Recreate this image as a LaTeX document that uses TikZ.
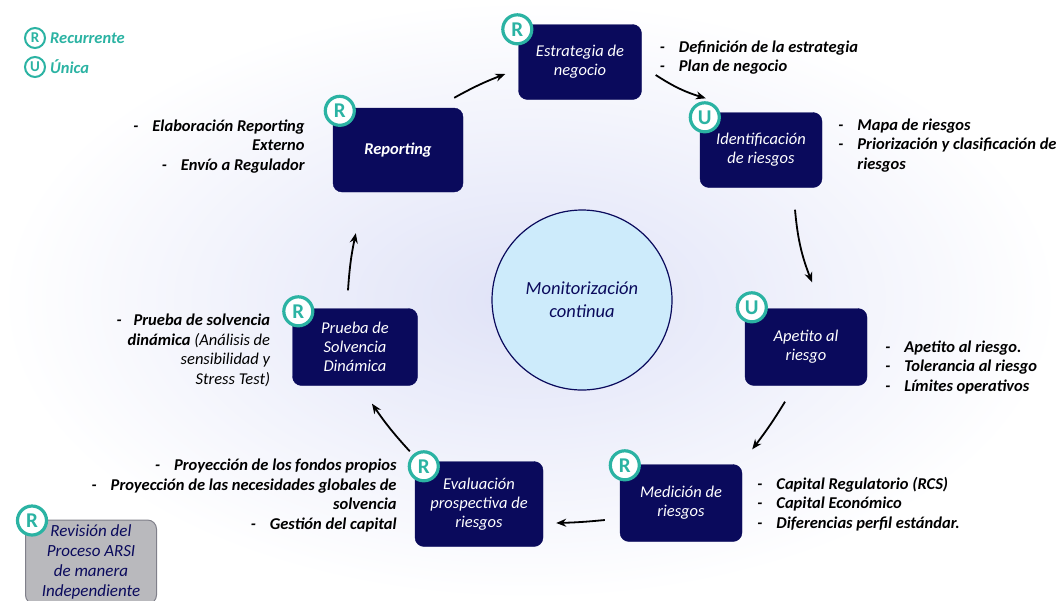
\documentclass[tikz,border=0pt]{standalone}
\usepackage{fontspec}
\setmainfont{Carlito}
\usepackage{tikz}
\usetikzlibrary{arrows.meta,positioning,calc}
\definecolor{arsinavy}{HTML}{0A0A5C}
\definecolor{arsiteal}{HTML}{2BB3A3}
\definecolor{arsicircle}{HTML}{CDEBFB}
\definecolor{arsigray}{HTML}{B9B9BD}
\definecolor{arsigrayline}{HTML}{80808A}
\definecolor{arsiwash}{HTML}{DFE2F7}

\begin{document}
\begin{tikzpicture}[x=1pt,y=-1pt,
  etapa/.style={draw=arsinavy, fill=arsinavy, rounded corners=9pt,
                minimum width=122pt, minimum height=77pt, inner sep=2pt,
                align=center, text=white,
                font=\fontsize{16.5}{19}\selectfont\itshape},
  marca/.style={circle, draw=arsiteal, line width=3.2pt, fill=white,
                minimum size=29pt, inner sep=0pt,
                font=\fontsize{21}{21}\selectfont\bfseries\color{arsiteal}},
  leyenda/.style={marca, line width=2pt, minimum size=20pt,
                  font=\fontsize{15}{15}\selectfont\bfseries\color{arsiteal}},
  tarea/.style={inner sep=0pt, font=\fontsize{16.5}{19.5}\selectfont\bfseries\itshape},
  flecha/.style={-{Stealth[length=10pt,width=8pt]}, line width=1.8pt, black}
]
  \useasboundingbox (0,0) rectangle (1059,600);
  \clip (0,0) rectangle (1059,600);
  \shade[inner color=arsiwash, outer color=white] (0,0) rectangle (1059,600);

  % ciclo ARSI
  \node[etapa, minimum width=123pt, minimum height=75pt] (est) at (580,62) {Estrategia de\\negocio};
  \node[etapa, minimum height=75pt] (ide) at (761,150) {Identificación\\de riesgos};
  \node[etapa] (ape) at (806,347) {Apetito al\\riesgo};
  \node[etapa] (med) at (681,503) {Medición de\\riesgos};
  \node[etapa, minimum width=128pt, minimum height=85pt] (eva) at (479,504) {Evaluación\\prospectiva de\\riesgos};
  \node[etapa, minimum width=125pt] (pru) at (355,347) {Prueba de\\Solvencia\\Dinámica};
  \node[etapa, minimum width=130pt, minimum height=84pt, font=\fontsize{16.5}{19}\selectfont\bfseries\itshape]
    (rep) at (398,150) {Reporting};

  \node[circle, draw=arsinavy, line width=1.2pt, fill=arsicircle, minimum size=180pt,
        align=center, text=arsinavy, font=\fontsize{18.5}{23}\selectfont\itshape]
    (mon) at (582,300) {Monitorización\\continua};

  \node[etapa, fill=arsigray, draw=arsigrayline, line width=1pt, text=arsinavy,
        minimum width=131pt, minimum height=84pt,
        font=\fontsize{17}{20}\selectfont\itshape]
    (rev) at (91,562) {Revisión del\\Proceso ARSI\\de manera\\Independiente};

  % marcas R / U
  \node[marca] (mest) at ([shift={(-1,5)}]est.north west) {R};
  \node[marca] (mide) at ([shift={(5,5)}]ide.north west) {U};
  \node[marca] (mape) at ([shift={(7,-1)}]ape.north west) {U};
  \node[marca] (mmed) at ([shift={(5,1)}]med.north west) {R};
  \node[marca] (meva) at ([shift={(9,5)}]eva.north west) {R};
  \node[marca] (mpru) at ([shift={(6,3)}]pru.north west) {R};
  \node[marca] (mrep) at ([shift={(7,3)}]rep.north west) {R};
  \node[marca] (mrev) at ([shift={(7,1)}]rev.north west) {R};

  % leyenda
  \node[leyenda] (lr) at (35,38) {R};
  \node[leyenda] (lu) at (35,67) {U};
  \node[tarea, text=arsiteal, right=4pt of lr] {Recurrente};
  \node[tarea, text=arsiteal, right=4pt of lu] {Única};

  % flechas
  \draw[flecha] ([shift={(-9,-10)}]rep.north east) to[bend left=4] ([shift={(-13,12)}]est.west);
  \draw[flecha] ([shift={(14,13)}]est.east) to[bend right=8] ([shift={(6,-14)}]ide.north west);
  \draw[flecha] ([shift={(34,22)}]ide.south) to[bend right=8] ([shift={(6,-26)}]ape.north);
  \draw[flecha] ([shift={(-21,16)}]ape.south) to[bend left=3] ([shift={(10,-15)}]med.north east);
  \draw[flecha] ([shift={(-15,17)}]med.west) to[bend left=2] ([shift={(13,19)}]eva.east);
  \draw[flecha] ([shift={(-5,-10)}]eva.north west) to[bend left=4] ([shift={(17,18)}]pru.south);
  \draw[flecha] ([shift={(-7,-18)}]pru.north) to[bend left=4] ([shift={(23,41)}]rep.south west);

  % tareas de cada etapa
  \node[tarea, right=18pt of est, yshift=4pt]
    {\begin{tabular}{@{}l@{\hspace{14pt}}l@{}}
      - & Definición de la estrategia\\
      - & Plan de negocio
    \end{tabular}};
  \node[tarea, right=16pt of ide, yshift=4pt]
    {\begin{tabular}{@{}l@{\hspace{14pt}}l@{}}
      - & Mapa de riesgos\\
      - & Priorización y clasificación de\\
        & riesgos
    \end{tabular}};
  \node[tarea, right=18pt of ape, yshift=-21pt]
    {\begin{tabular}{@{}l@{\hspace{14pt}}l@{}}
      - & Apetito al riesgo.\\
      - & Tolerancia al riesgo\\
      - & Límites operativos
    \end{tabular}};
  \node[tarea, right=15pt of med, yshift=-2pt]
    {\begin{tabular}{@{}l@{\hspace{14pt}}l@{}}
      - & Capital Regulatorio (RCS)\\
      - & Capital Económico\\
      - & Diferencias perfil estándar.
    \end{tabular}};
  \node[tarea, left=28pt of rep, yshift=3pt]
    {\begin{tabular}{@{}r@{}}
      -\hspace{14pt}Elaboración Reporting\\
      Externo\\
      -\hspace{14pt}Envío a Regulador
    \end{tabular}};
  \node[tarea, left=22pt of pru, yshift=-4pt]
    {\begin{tabular}{@{}r@{}}
      -\hspace{12pt}Prueba de solvencia\\
      dinámica \mdseries(Análisis de\\
      \mdseries sensibilidad y\\
      \mdseries Stress Test)
    \end{tabular}};
  \node[tarea, left=18pt of eva, yshift=8pt]
    {\begin{tabular}{@{}r@{}}
      -\hspace{14pt}Proyección de los fondos propios\\
      -\hspace{14pt}Proyección de las necesidades globales de\\
      solvencia\\
      -\hspace{14pt}Gestión del capital
    \end{tabular}};
\end{tikzpicture}
\end{document}
